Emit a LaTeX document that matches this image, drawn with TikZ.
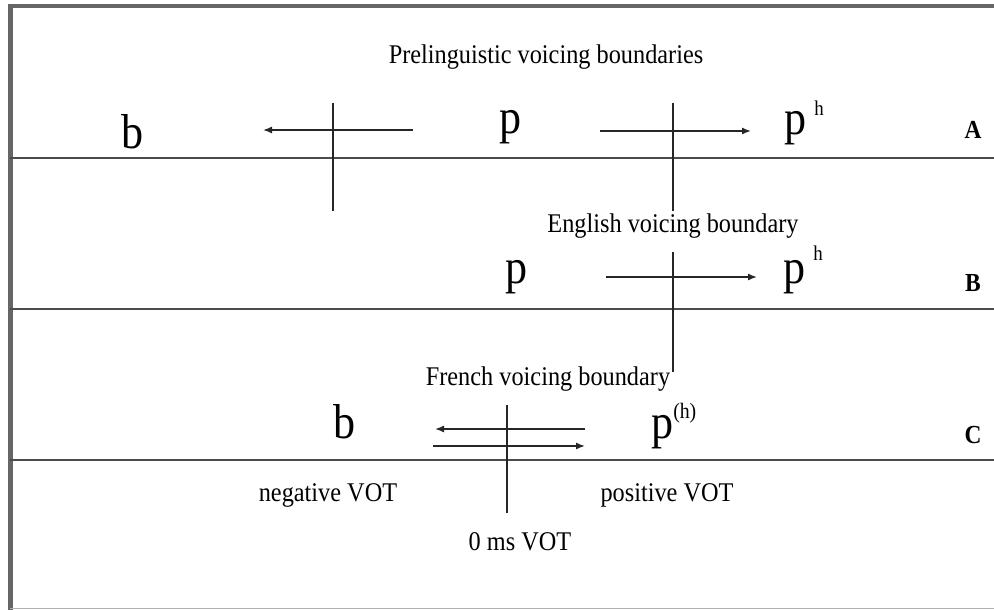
\documentclass[tikz,border=0pt]{standalone}
\usepackage{fontspec}
\setmainfont{Liberation Serif}[FakeStretch=0.9]
\usetikzlibrary{arrows.meta}
\begin{document}
\begin{tikzpicture}[x=1pt,y=-1pt,
    frame/.style={line width=4.5pt,black!60},
    sep/.style={line width=1.8pt,black!70},
    bound/.style={line width=1.2pt,black!85},
    drift/.style={line width=1.4pt,black!85,-{Latex[length=9pt,width=7pt]}},
    phone/.style={font=\fontsize{49}{49}\selectfont,anchor=base,inner sep=0pt},
    lbl/.style={font=\fontsize{27}{27}\selectfont,anchor=base,inner sep=0pt},
    row/.style={font=\fontsize{26}{26}\selectfont\bfseries,anchor=base,inner sep=0pt}]
  \useasboundingbox (0,0) rectangle (994,610);
  % frame and row lines
  \draw[frame] (8,6) -- (994,6);
  \draw[frame] (10.5,4) -- (10.5,610);
  \draw[line width=1.5pt,black!30] (10,608.5) -- (994,608.5);
  \draw[sep] (10,158) -- (994,158);
  \draw[sep] (10,309) -- (994,309);
  \draw[sep] (10,460) -- (994,460);

  % row A
  \node[lbl] (pre) at (546,64) {Prelinguistic voicing boundaries};
  \node[phone] (bA) at (133,148) {b};
  \node[phone] (pA) at (511,133) {p};
  \node[phone,anchor=base west] (phA) at (784,135) {p\,\raisebox{20pt}{\fontsize{21}{21}\selectfont h}};
  \node[row] (rA) at (973,139) {A};
  \coordinate (lA1) at (413,130);
  \coordinate (lA2) at (263,130);
  \coordinate (rA1) at (600,131);
  \coordinate (rA2) at (751,131);
  \coordinate (vA1) at (333,103);
  \coordinate (vA2) at (333,211);
  \coordinate (vA3) at (673,103);
  \coordinate (vA4) at (673,211);
  \draw[drift] (lA1) -- (lA2);
  \draw[drift] (rA1) -- (rA2);
  \draw[bound] (vA1) -- (vA2);
  \draw[bound] (vA3) -- (vA4);

  % row B
  \node[lbl] (eng) at (673,232) {English voicing boundary};
  \node[phone] (pB) at (517,283) {p};
  \node[phone,anchor=base west] (phB) at (783,283) {p\,\raisebox{23pt}{\fontsize{21}{21}\selectfont h}};
  \node[row] (rB) at (973,291) {B};
  \coordinate (aB1) at (606,277);
  \coordinate (aB2) at (757,277);
  \coordinate (vB1) at (673,252);
  \coordinate (vB2) at (673,372);
  \draw[drift] (aB1) -- (aB2);
  \draw[bound] (vB1) -- (vB2);

  % row C
  \node[lbl] (fre) at (548,385) {French voicing boundary};
  \node[phone] (bC) at (345,438) {b};
  \node[phone,anchor=base west] (phC) at (651,438) {p\raisebox{20pt}{\fontsize{22}{22}\selectfont (h)}};
  \node[row] (rC) at (973,443) {C};
  \coordinate (uC1) at (585,429);
  \coordinate (uC2) at (435,429);
  \coordinate (dC1) at (433,446);
  \coordinate (dC2) at (585,446);
  \coordinate (vC1) at (507,405);
  \coordinate (vC2) at (507,513);
  \draw[drift] (uC1) -- (uC2);
  \draw[drift] (dC1) -- (dC2);
  \draw[bound] (vC1) -- (vC2);

  % VOT scale
  \node[lbl] (neg) at (328,501) {negative VOT};
  \node[lbl] (zero) at (520,550) {0 ms VOT};
  \node[lbl] (pos) at (667,501) {positive VOT};
\end{tikzpicture}
\end{document}
